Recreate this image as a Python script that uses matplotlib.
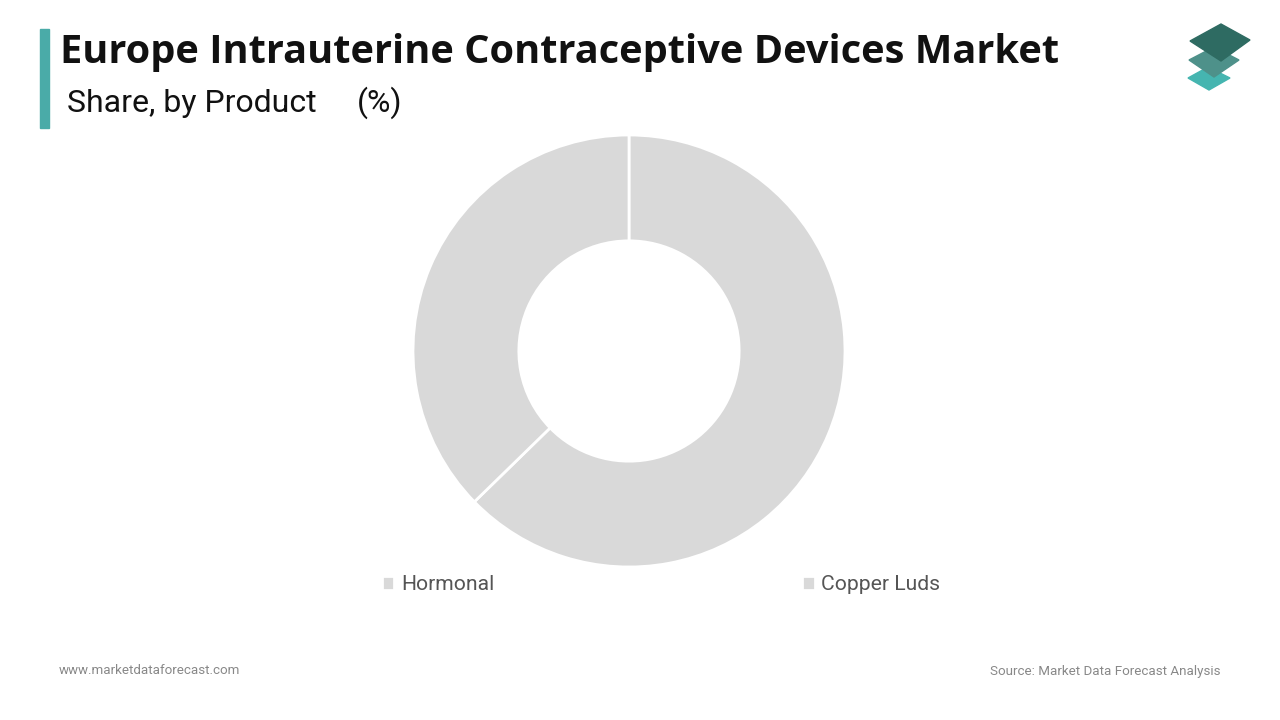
import matplotlib.pyplot as plt
from matplotlib.patches import Polygon, Rectangle

# data
labels = ['Hormonal', 'Copper Luds']
shares = [62.7, 37.3]
colors = ['#d9d9d9', '#d9d9d9']

title = 'Europe Intrauterine Contraceptive Devices Market'
subtitle = 'Share, by Product'
W, H = 1280, 720


def fx(x):
    return x / W


def fy(y):
    return 1 - y / H


fig = plt.figure(figsize=(12.8, 7.2), dpi=100)
fig.patch.set_facecolor('white')

# accent bar and titles
fig.patches.append(Rectangle((fx(40), fy(128)), 9 / W, 99 / H, transform=fig.transFigure,
                             color='#4aaba8', zorder=1))
fig.text(fx(60), fy(52), title, fontsize=28.6, fontweight='bold', family='Open Sans',
         va='center', ha='left', color='#111111')
fig.text(fx(67), fy(103), subtitle, fontsize=23, family='Roboto', va='center', ha='left',
         color='#111111')
fig.text(fx(357), fy(103), '(%)', fontsize=23, family='Roboto', va='center', ha='left',
         color='#111111')

# logo - three stacked diamonds
layers = [
    ([(1188, 78), (1208, 67), (1230, 78), (1209, 90)], '#45b5b0'),
    ([(1189, 60), (1214, 47), (1239, 60), (1214, 77)], '#4e918a'),
    ([(1190, 41), (1221, 24), (1250, 40), (1221, 61)], '#2e6b62'),
]
for pts, c in layers:
    fig.patches.append(Polygon([(fx(x), fy(y)) for x, y in pts], closed=True,
                               transform=fig.transFigure, color=c))

# donut
cx, cy, r = 629, 351, 216
ax = fig.add_axes([fx(cx - r), fy(cy + r), 2 * r / W, 2 * r / H])
wedges, _ = ax.pie(shares, colors=colors, startangle=90, counterclock=False,
                   radius=1, wedgeprops=dict(width=0.49, edgecolor='white', linewidth=2))
ax.set_xlim(-1, 1)
ax.set_ylim(-1, 1)
ax.set_aspect('equal')
ax.axis('off')

leg = fig.legend(wedges, labels, ncol=2, loc='center', bbox_to_anchor=(fx(661), fy(585)),
                 frameon=False, handlelength=0.6, handleheight=0.6, handletextpad=0.3,
                 columnspacing=14.6, prop=dict(family='Roboto', size=15.2))
for t in leg.get_texts():
    t.set_color('#555555')

# footer
fig.text(fx(59), fy(671), 'www.marketdataforecast.com', fontsize=9.6, family='Roboto',
         color='#888888', va='center', ha='left')
fig.text(fx(1220), fy(671), 'Source: Market Data Forecast Analysis', fontsize=9.6,
         family='Roboto', color='#888888', va='center', ha='right')

fig.savefig('out.png', dpi=100)
